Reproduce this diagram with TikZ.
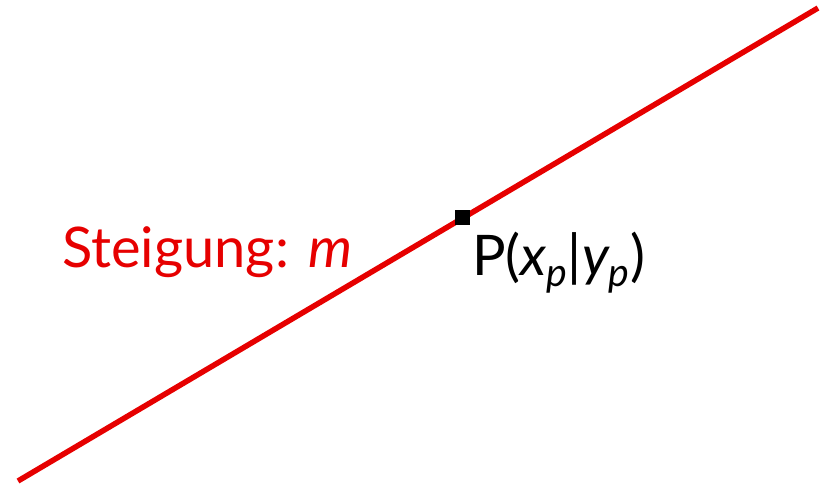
\documentclass[tikz,border=0pt]{standalone}
\usepackage{fontspec}
\setmainfont{Lato}
\definecolor{lred}{RGB}{230,0,0}
\begin{document}
\begin{tikzpicture}[x=1pt,y=-1pt,
  redline/.style={draw=lred,line width=5.5pt},
  lbl/.style={inner sep=0pt,font=\fontsize{56}{66}\selectfont}]
\useasboundingbox (0,0) rectangle (825,484);
\coordinate (A) at (18,481);
\coordinate (B) at (818,8);
\draw[redline] (A) -- (B);
\node[fill=black,minimum size=15pt,inner sep=0pt] (P) at (462,217.5) {};
\node[lbl,text=lred,anchor=base west] (m) at (62,267) {Steigung: \textit{m}};
\node[lbl,anchor=base west] (pl) at (472,275) {P(\textit{x\textsubscript{p}}|\textit{y\textsubscript{p}})};
\end{tikzpicture}
\end{document}
